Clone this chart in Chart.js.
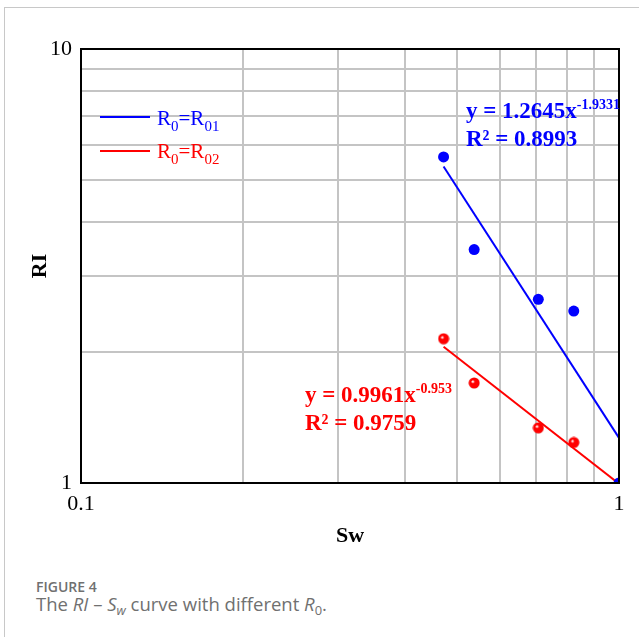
<!DOCTYPE html>
<html>
<head>
<meta charset="utf-8">
<title>RI - Sw curve</title>
<script src="https://cdn.jsdelivr.net/npm/chart.js@4.4.1/dist/chart.umd.min.js"></script>
<style>
    body { margin: 0; background: #fff; width: 639px; height: 637px; overflow: hidden; position: relative; }
    #frame { position: absolute; left: 4px; top: 7px; right: 0; bottom: 0; border-top: 1px solid #c8c8c8; border-left: 1px solid #c8c8c8; }
    #wrap { position: absolute; left: 0; top: 0; width: 639px; height: 560px; }
    .serif { font-family: 'Liberation Serif', 'Times New Roman', serif; position: absolute; white-space: nowrap; }
    .legend { font-size: 21px; line-height: 20px; }
    .legend sub { font-size: 15px; line-height: 0; vertical-align: baseline; position: relative; top: 6px; }
    .swatch { position: absolute; height: 2px; width: 50px; }
    .eq { font-size: 23px; line-height: 28px; font-weight: bold; }
    .eq sup { font-size: 14px; line-height: 0; vertical-align: baseline; position: relative; top: -9px; }
    .caption { position: absolute; left: 36px; font-family: 'Open Sans', sans-serif; color: #707070; white-space: nowrap; }
    .caption sub { font-size: 0.7em; line-height: 0; vertical-align: baseline; position: relative; top: 4px; }
</style>
</head>
<body>
<div id="frame"></div>
<div id="wrap"><canvas id="riChart" width="639" height="560"></canvas></div>

<div class="swatch" style="left:100px; top:116px; background:#0000ff;"></div>
<div class="serif legend" style="left:157px; top:108px; color:#0000ff;">R<sub>0</sub>=R<sub>01</sub></div>
<div class="swatch" style="left:100px; top:150px; background:#ff0000;"></div>
<div class="serif legend" style="left:157px; top:141px; color:#ff0000;">R<sub>0</sub>=R<sub>02</sub></div>

<div class="serif eq" style="left:466px; top:97px; color:#0000ff;">y = 1.2645x<sup>-1.9331</sup><br>R² = 0.8993</div>
<div class="serif eq" style="left:305px; top:381px; color:#ff0000;">y = 0.9961x<sup>-0.953</sup><br>R² = 0.9759</div>

<div class="caption" style="top:580px; font-size:14px; line-height:14px; font-weight:600;">FIGURE 4</div>
<div class="caption" style="top:595px; font-size:18.5px; line-height:18px;">The <i>RI</i> – <i>S</i><sub><i>w</i></sub> curve with different <i>R</i><sub>0</sub>.</div>

<script>
// measured points (Sw, RI)
const sw = [0.472, 0.538, 0.708, 0.824];
const swBlue = [0.472, 0.538, 0.708, 0.824, 1.0];
const riBlue = [5.64, 3.45, 2.65, 2.49, 1.0];
const riRed = [2.15, 1.70, 1.34, 1.24];

// power-law trend lines, end points
const trendSw = [0.472, 1.0];
const trendBlue = [5.36, 1.27];
const trendRed = [2.06, 0.996];

// grid ticks and the ones that get a label
const xGrid = [0.1, 0.2, 0.3, 0.4, 0.5, 0.6, 0.7, 0.8, 0.9, 1];
const yGrid = [1, 2, 3, 4, 5, 6, 7, 8, 9, 10];
const xLabels = [0.1, 1];
const yLabels = [1, 10];

const toPoints = (xs, ys) => xs.map((x, i) => ({ x: x, y: ys[i] }));

function sphere(color, dark) {
    const c = document.createElement('canvas');
    c.width = 12;
    c.height = 12;
    const g = c.getContext('2d');
    const grad = g.createRadialGradient(4.5, 4.5, 0.5, 6, 6, 6);
    grad.addColorStop(0, '#ffffff');
    grad.addColorStop(0.25, color);
    grad.addColorStop(0.85, color);
    grad.addColorStop(1, dark);
    g.fillStyle = grad;
    g.beginPath();
    g.arc(6, 6, 5.5, 0, Math.PI * 2);
    g.fill();
    return c;
}

const boxPlugin = {
    id: 'box',
    afterDraw(chart) {
        const { ctx, chartArea } = chart;
        ctx.save();
        ctx.strokeStyle = '#000';
        ctx.lineWidth = 2;
        ctx.strokeRect(chartArea.left, chartArea.top, chartArea.right - chartArea.left, chartArea.bottom - chartArea.top);
        ctx.restore();
    }
};

document.addEventListener('DOMContentLoaded', function () {
    const ctx = document.getElementById('riChart').getContext('2d');

    Chart.defaults.font.family = "'Liberation Serif', 'Times New Roman', serif";
    Chart.defaults.color = '#000';

    new Chart(ctx, {
        type: 'scatter',
        data: {
            datasets: [
                {
                    label: 'R0=R01',
                    data: toPoints(swBlue, riBlue),
                    backgroundColor: '#0000ff',
                    pointRadius: 5.5,
                    pointBorderWidth: 0,
                    clip: 0
                },
                {
                    label: 'R0=R02',
                    data: toPoints(sw, riRed),
                    pointStyle: sphere('#ff0000', '#c00000'),
                    clip: 0
                },
                {
                    label: 'fit 1',
                    type: 'line',
                    data: toPoints(trendSw, trendBlue),
                    borderColor: '#0000ff',
                    borderWidth: 2,
                    pointRadius: 0,
                    clip: 0
                },
                {
                    label: 'fit 2',
                    type: 'line',
                    data: toPoints(trendSw, trendRed),
                    borderColor: '#ff0000',
                    borderWidth: 2,
                    pointRadius: 0,
                    clip: 0
                }
            ]
        },
        options: {
            responsive: false,
            animation: false,
            layout: { padding: { top: 49, right: 20, left: 0, bottom: 0 } },
            plugins: {
                legend: { display: false },
                tooltip: { enabled: false }
            },
            scales: {
                x: {
                    type: 'logarithmic',
                    min: 0.1,
                    max: 1,
                    afterBuildTicks: s => { s.ticks = xGrid.map(v => ({ value: v })); },
                    afterFit: s => { s.height = 77; },
                    grid: { color: '#c4c4c4', lineWidth: 2, drawTicks: false },
                    border: { color: '#000', width: 2 },
                    ticks: {
                        autoSkip: false,
                        maxRotation: 0,
                        padding: 8,
                        font: { size: 22 },
                        callback: v => xLabels.includes(v) ? String(v) : ''
                    },
                    title: {
                        display: true,
                        text: 'Sw',
                        font: { size: 22, weight: 'bold' },
                        padding: { top: 0, bottom: 10 }
                    }
                },
                y: {
                    type: 'logarithmic',
                    min: 1,
                    max: 10,
                    afterBuildTicks: s => { s.ticks = yGrid.map(v => ({ value: v })); },
                    afterFit: s => { s.width = 81; },
                    grid: { color: '#c4c4c4', lineWidth: 2, drawTicks: false },
                    border: { color: '#000', width: 2 },
                    ticks: {
                        autoSkip: false,
                        padding: 9,
                        font: { size: 22 },
                        callback: v => yLabels.includes(v) ? String(v) : ''
                    },
                    title: {
                        display: true,
                        text: 'RI',
                        font: { size: 22, weight: 'bold' },
                        padding: { top: 27, bottom: 0 }
                    }
                }
            }
        },
        plugins: [boxPlugin]
    });
});
</script>
</body>
</html>
